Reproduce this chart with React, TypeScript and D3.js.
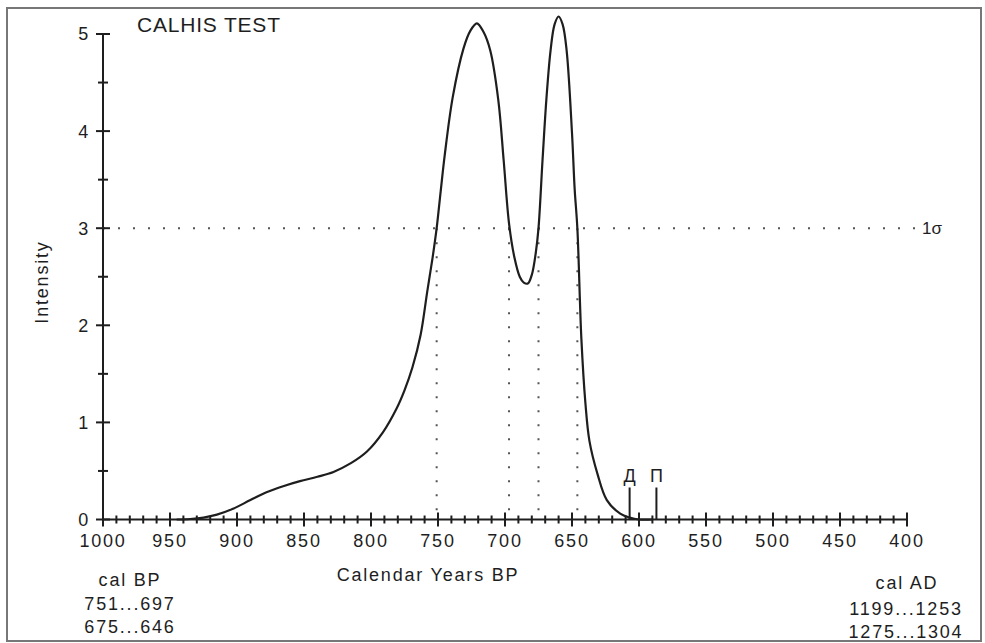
import React from 'react'
import * as d3 from 'd3'

// calibrated probability curve (cal years BP vs intensity)
const years = [
  945, 935, 925, 915, 903, 890, 878, 865, 853, 840, 828, 815, 803, 791, 781, 775,
  769, 763, 758, 754, 751, 748, 745, 739, 731, 726, 721, 716, 711, 705, 701, 697,
  693, 689, 686, 683, 680, 677, 675, 672, 669, 666, 663, 660, 657, 654, 650, 648,
  646, 643, 640, 637, 631, 624, 614, 607, 600, 590,
]
const intensity = [
  0, 0.005, 0.02, 0.05, 0.11, 0.2, 0.28, 0.345, 0.395, 0.44, 0.49, 0.58, 0.7, 0.9, 1.14, 1.33,
  1.57, 1.9, 2.35, 2.7, 3.0, 3.38, 3.75, 4.35, 4.85, 5.03, 5.11, 5.02, 4.83, 4.32, 3.7, 3.05,
  2.7, 2.5, 2.44, 2.43, 2.52, 2.75, 3.0, 3.7, 4.35, 4.83, 5.1, 5.18, 5.1, 4.83, 3.98, 3.4,
  3.0, 1.86, 1.2, 0.81, 0.47, 0.2, 0.06, 0.02, 0, 0,
]

// 1 sigma ranges (cal BP) and their labels
const sigmaBounds = [751, 697, 675, 646]
const sigmaLevel = 3
const calBP = ['751...697', '675...646']
const calAD = ['1199...1253', '1275...1304']

// markers on the axis
const markers = [
  { label: 'Д', year: 607 },
  { label: 'П', year: 587 },
]

const yTicks = [0, 1, 2, 3, 4, 5]

const W = 985
const H = 643
const FONT = '"Liberation Sans", Arial, Helvetica, sans-serif'
const INK = '#1e1e1e'

export default function App() {
  const x = d3.scaleLinear().domain([1000, 400]).range([103, 907])
  const y = d3.scaleLinear().domain([0, 5]).range([519.5, 34])

  const majorX = d3.range(1000, 399, -50)
  const minorX = d3.range(1000, 399, -10).filter(v => v % 50 !== 0)
  const minorY = d3.range(0.5, 5, 1)

  const pts = years.map((yr, i) => [yr, intensity[i]] as [number, number])
  const line = d3.line<[number, number]>()
    .x(d => x(d[0]))
    .y(d => Math.min(y(d[1]), y(0)))
    .curve(d3.curveCatmullRom.alpha(0.5))

  const y0 = y(0)
  const txt = { fontFamily: FONT, fontSize: 18, letterSpacing: 1.8, fill: INK }

  return (
    <svg width={W} height={H} style={{ position: 'absolute', left: 0, top: 0, background: '#fff' }}>
      <rect x={7} y={8} width={974} height={633} fill="#fff" stroke="#777" strokeWidth={2} />

      <text x={137} y={32} style={{ fontFamily: FONT, fontSize: 21, letterSpacing: 0.8, fill: INK }}>CALHIS TEST</text>

      {/* 1 sigma level */}
      <line x1={x(1000)} x2={x(400) + 8} y1={y(sigmaLevel)} y2={y(sigmaLevel)}
        stroke="#555" strokeWidth={2} strokeDasharray="2,13" />
      <text x={922} y={y(sigmaLevel)} dy="0.35em" style={{ fontFamily: FONT, fontSize: 17, fill: INK }}>1σ</text>

      {sigmaBounds.map(b => (
        <line key={b} x1={x(b)} x2={x(b)} y1={y(sigmaLevel)} y2={y0}
          stroke="#555" strokeWidth={2} strokeDasharray="2,12" />
      ))}

      {/* axes */}
      <line x1={x(1000)} x2={x(1000)} y1={y(5)} y2={y0} stroke={INK} strokeWidth={2} />
      <line x1={x(1000)} x2={x(400)} y1={y0} y2={y0} stroke={INK} strokeWidth={2} />

      {yTicks.map(t => (
        <g key={t}>
          <line x1={x(1000) - 7} x2={x(1000) + 7} y1={y(t)} y2={y(t)} stroke={INK} strokeWidth={2} />
          <text x={90} y={y(t)} dy="0.36em" textAnchor="end" style={txt}>{t}</text>
        </g>
      ))}
      {minorY.map(t => (
        <line key={t} x1={x(1000) - 5} x2={x(1000) + 5} y1={y(t)} y2={y(t)} stroke={INK} strokeWidth={2} />
      ))}

      {majorX.map(t => (
        <g key={t}>
          <line x1={x(t)} x2={x(t)} y1={y0 - 7} y2={y0 + 7} stroke={INK} strokeWidth={2} />
          <text x={x(t)} y={547} textAnchor="middle" style={txt}>{t}</text>
        </g>
      ))}
      {minorX.map(t => (
        <line key={t} x1={x(t)} x2={x(t)} y1={y0 - 4} y2={y0 + 4} stroke={INK} strokeWidth={2} />
      ))}

      {/* curve */}
      <path d={line(pts) ?? ''} fill="none" stroke={INK} strokeWidth={2.2} />

      {markers.map(m => (
        <g key={m.label}>
          <line x1={x(m.year)} x2={x(m.year)} y1={y0 - 32} y2={y0} stroke={INK} strokeWidth={2} />
          <text x={x(m.year)} y={482} textAnchor="middle" style={{ fontFamily: FONT, fontSize: 18, fill: INK }}>{m.label}</text>
        </g>
      ))}

      <text x={42} y={282} textAnchor="middle" transform="rotate(-90 42 282)" dy="0.35em" style={txt}>Intensity</text>
      <text x={428} y={581} textAnchor="middle" style={txt}>Calendar Years BP</text>

      <text x={130} y={586} textAnchor="middle" style={txt}>cal BP</text>
      {calBP.map((s, i) => (
        <text key={s} x={130} y={610 + i * 23} textAnchor="middle" style={txt}>{s}</text>
      ))}
      <text x={907} y={589} textAnchor="middle" style={txt}>cal AD</text>
      {calAD.map((s, i) => (
        <text key={s} x={906} y={615 + i * 23} textAnchor="middle" style={txt}>{s}</text>
      ))}
    </svg>
  )
}
